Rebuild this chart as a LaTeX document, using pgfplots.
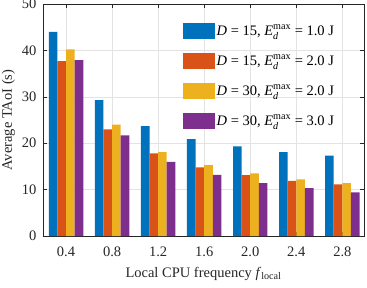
\documentclass[border=0pt]{standalone}
\usepackage{amsmath}
\usepackage{fontspec}
\setmainfont{Liberation Serif}
\usepackage{pgfplots}
\pgfplotsset{compat=1.18}
\definecolor{mb}{rgb}{0,0.447,0.741}
\definecolor{mo}{rgb}{0.850,0.325,0.098}
\definecolor{my}{rgb}{0.929,0.694,0.125}
\definecolor{mp}{rgb}{0.494,0.184,0.556}
\definecolor{axc}{rgb}{0.15,0.15,0.15}
\begin{document}
\begin{tikzpicture}
\begin{axis}[
  scale only axis, width=321pt, height=232pt,
  tick label style={font=\fontsize{14.5}{16}\selectfont, axc},
  label style={font=\fontsize{14.5}{16}\selectfont, axc},
  xticklabel style={yshift=-7pt},
  yticklabel style={xshift=-3pt},
  /pgf/number format/assume math mode=true,
  ybar=0pt, bar width=0.187,
  xmin=-0.5, xmax=6.47, ymin=0, ymax=50,
  xtick={0,...,6}, xticklabels={0.4,0.8,1.2,1.6,2.0,2.4,2.8},
  ytick={0,10,20,30,40,50},
  tick align=inside, major tick length=4pt,
  tick style={axc, line width=0.5pt},
  axis line style={axc, line width=0.6pt},
  xmajorgrids, ymajorgrids,
  grid style={gray!22, line width=0.5pt},
  xlabel={Local CPU frequency \textit{f}$_{\text{local}}$},
  ylabel={Average TAoI (s)},
  xlabel style={yshift=-4pt},
  ylabel style={yshift=0pt},
  legend cell align=left,
  legend style={draw=none, fill=none, at={(0.436,0.92)}, anchor=north west,
    inner sep=0pt, row sep=14pt, font=\fontsize{14.5}{16}\selectfont,
    nodes={inner sep=1.5pt}},
  legend image code/.code={\fill[#1] (0pt,-8pt) rectangle (32pt,8pt);},
]
\addplot[fill=mb, draw=none] coordinates {(0,44.0) (1,29.3) (2,23.7) (3,20.9) (4,19.3) (5,18.1) (6,17.3)};
\addplot[fill=mo, draw=none] coordinates {(0,37.7) (1,23.0) (2,17.8) (3,14.8) (4,13.1) (5,11.9) (6,11.1)};
\addplot[fill=my, draw=none] coordinates {(0,40.2) (1,24.0) (2,18.1) (3,15.3) (4,13.5) (5,12.2) (6,11.4)};
\addplot[fill=mp, draw=none] coordinates {(0,37.9) (1,21.7) (2,16.0) (3,13.2) (4,11.4) (5,10.3) (6,9.4)};
\legend{{\textit{D} = 15, \textit{E}$_{\text{\textit{d}}}^{\text{max}}$ = 1.0 J},
        {\textit{D} = 15, \textit{E}$_{\text{\textit{d}}}^{\text{max}}$ = 2.0 J},
        {\textit{D} = 30, \textit{E}$_{\text{\textit{d}}}^{\text{max}}$ = 2.0 J},
        {\textit{D} = 30, \textit{E}$_{\text{\textit{d}}}^{\text{max}}$ = 3.0 J}}
\end{axis}
\pgfresetboundingbox
\path[use as bounding box] (-43pt,-51pt) rectangle (324pt,236pt);
\end{tikzpicture}
\end{document}
